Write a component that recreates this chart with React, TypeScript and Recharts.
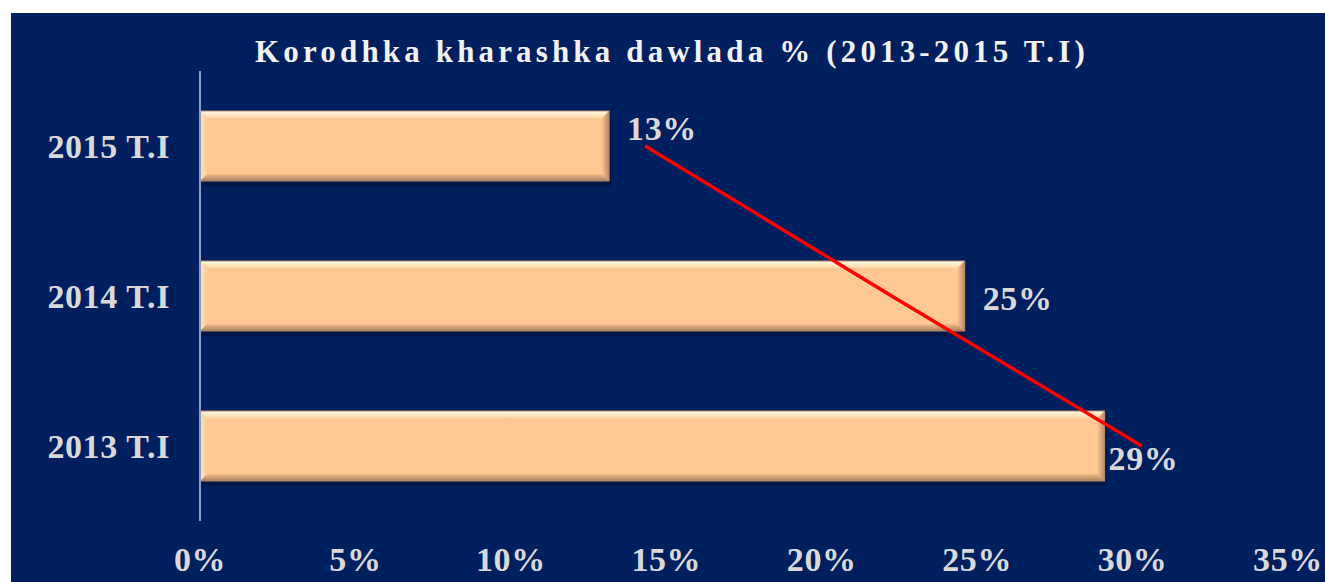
import React from 'react';
import { ComposedChart, Bar, Line, XAxis, YAxis, LabelList } from 'recharts';

// chart values
const categories = ['2015 T.I', '2014 T.I', '2013 T.I'];
const shares = [0.1316, 0.246, 0.291];
const shareLabels = ['13%', '25%', '29%'];
const trendValues = [0.1432, 0.2225, 0.303];
const xTicks = [0, 0.05, 0.1, 0.15, 0.2, 0.25, 0.3, 0.35];

const data = categories.map((year, i) => ({
  year,
  share: shares[i],
  label: shareLabels[i],
  trend: trendValues[i],
}));

// manual label nudges like in the original sheet
const labelNudge = [
  { dx: 0, dy: -18 },
  { dx: 0, dy: 2 },
  { dx: -14, dy: 12 },
];

const FONT = '"Liberation Serif", "DejaVu Serif", serif';
const BG = '#001f5f';
const TICK_STYLE = { fill: '#d9d9d9', fontFamily: FONT, fontWeight: 'bold', fontSize: 34, letterSpacing: 0.6 };

const BevelBar = (props: any) => {
  const { x, y, width, height } = props;
  if (!width || width <= 0) return null;
  const b = 7;
  return (
    <g>
      <rect x={x + 2} y={y + 5} width={width} height={height} fill="#00143f" opacity={0.75} />
      <rect x={x} y={y} width={width} height={height} fill="#ffc892" />
      <polygon
        points={`${x},${y} ${x + width},${y} ${x + width - b},${y + b} ${x + b},${y + b}`}
        fill="url(#bevelTop)"
      />
      <polygon
        points={`${x},${y + height} ${x + width},${y + height} ${x + width - b},${y + height - b} ${x + b},${y + height - b}`}
        fill="url(#bevelBottom)"
      />
      <polygon
        points={`${x + width},${y} ${x + width},${y + height} ${x + width - b},${y + height - b} ${x + width - b},${y + b}`}
        fill="url(#bevelRight)"
      />
      <polygon
        points={`${x},${y} ${x},${y + height} ${x + b},${y + height - b} ${x + b},${y + b}`}
        fill="url(#bevelLeft)"
      />
      <rect x={x} y={y} width={width} height={height} fill="none" stroke="#b58a66" strokeWidth={1} />
    </g>
  );
};

const ValueLabel = (props: any) => {
  const { x, y, width, height, value, index } = props;
  const n = labelNudge[index] || { dx: 0, dy: 0 };
  return (
    <text
      x={x + width + 18 + n.dx}
      y={y + height / 2 + n.dy}
      dy="0.35em"
      fill="#d9d9d9"
      fontFamily={FONT}
      fontWeight="bold"
      fontSize={34}
      letterSpacing={0.6}
    >
      {value}
    </text>
  );
};

const App = () => {
  return (
    <div style={{ position: 'absolute', left: 11, top: 13, width: 1314, height: 569, background: BG }}>
      <div
        style={{
          position: 'absolute',
          left: 0,
          top: 22,
          width: 1322,
          textAlign: 'center',
          color: '#f2f2f2',
          fontFamily: FONT,
          fontWeight: 'bold',
          fontSize: 31,
          letterSpacing: 4.15,
          lineHeight: '34px',
        }}
      >
        Korodhka kharashka dawlada % (2013-2015 T.I)
      </div>
      <ComposedChart
        width={1314}
        height={569}
        data={data}
        layout="vertical"
        margin={{ top: 58, right: 37, bottom: 0, left: 0 }}
        style={{ position: 'absolute', left: 0, top: 0 }}
      >
        <defs>
          <linearGradient id="bevelTop" x1="0" y1="0" x2="0" y2="1">
            <stop offset="0%" stopColor="#fffbe6" />
            <stop offset="100%" stopColor="#ffd8a8" />
          </linearGradient>
          <linearGradient id="bevelBottom" x1="0" y1="1" x2="0" y2="0">
            <stop offset="0%" stopColor="#a97f60" />
            <stop offset="100%" stopColor="#f5bd88" />
          </linearGradient>
          <linearGradient id="bevelRight" x1="1" y1="0" x2="0" y2="0">
            <stop offset="0%" stopColor="#b8896a" />
            <stop offset="100%" stopColor="#f8c28e" />
          </linearGradient>
          <linearGradient id="bevelLeft" x1="0" y1="0" x2="1" y2="0">
            <stop offset="0%" stopColor="#ffe2c0" />
            <stop offset="100%" stopColor="#ffcb97" />
          </linearGradient>
        </defs>
        <XAxis
          type="number"
          domain={[0, 0.35]}
          ticks={xTicks}
          tickFormatter={(v: number) => `${Math.round(v * 100)}%`}
          axisLine={false}
          tickLine={false}
          tickMargin={20}
          height={61}
          interval={0}
          tick={TICK_STYLE}
        />
        <YAxis
          type="category"
          dataKey="year"
          width={189}
          axisLine={{ stroke: '#8d9cc0', strokeWidth: 2 }}
          tickLine={false}
          tickMargin={24}
          tick={TICK_STYLE}
        />
        <Bar dataKey="share" barSize={70} shape={<BevelBar />} isAnimationActive={false}>
          <LabelList dataKey="label" content={<ValueLabel />} />
        </Bar>
        <Line
          dataKey="trend"
          type="linear"
          stroke="#ff0000"
          strokeWidth={3.5}
          dot={false}
          activeDot={false}
          isAnimationActive={false}
        />
      </ComposedChart>
    </div>
  );
};

export default App;
